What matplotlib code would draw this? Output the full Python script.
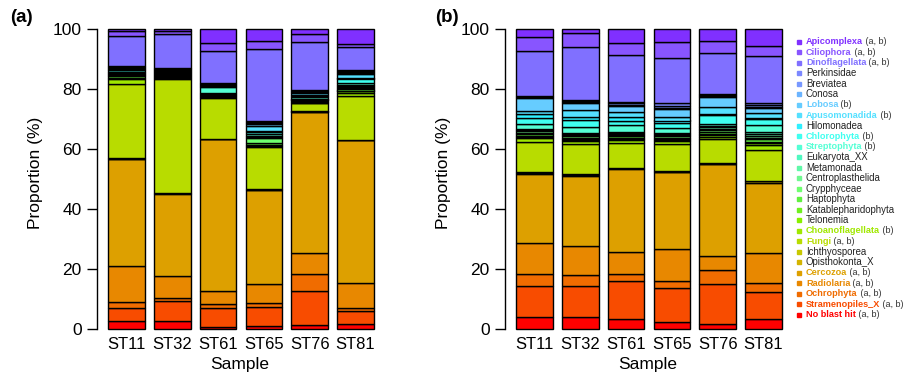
import numpy as np
import matplotlib.pyplot as plt
from matplotlib.patches import Rectangle

plt.rcParams["font.family"] = ["Liberation Sans", "DejaVu Sans"]

samples = ["ST11", "ST32", "ST61", "ST65", "ST76", "ST81"]

# stacking order, bottom to top
taxa = [
    "No blast hit", "Stramenopiles_X", "Ochrophyta", "Radiolaria", "Cercozoa",
    "Opisthokonta_X", "Ichthyosporea", "Fungi", "Choanoflagellata", "Telonemia",
    "Katablepharidophyta", "Haptophyta", "Crypphyceae", "Centroplasthelida",
    "Metamonada", "Eukaryota_XX", "Streptophyta", "Chlorophyta", "Hilomonadea",
    "Apusomonadida", "Lobosa", "Conosa", "Breviatea", "Perkinsidae",
    "Dinoflagellata", "Ciliophora", "Apicomplexa",
]
tags = [
    "(a, b)", "(a, b)", "(a, b)", "(a, b)", "(a, b)",
    "", "", "(a, b)", "(b)", "",
    "", "", "", "",
    "", "", "(b)", "(b)", "",
    "(b)", "(b)", "", "", "",
    "(a, b)", "(a, b)", "(a, b)",
]
colors = [
    "#FF0000", "#F84C00", "#F06C00", "#E88800", "#DDA000",
    "#D4B400", "#C8C800", "#B8DC00", "#A0E800", "#88F000",
    "#70F020", "#60F040", "#70FF70", "#70F890",
    "#60F8A8", "#50F8C0", "#55FFD5", "#40FFF0", "#30F0FF",
    "#55E0FF", "#66CCFF", "#6CB4FF", "#7898FF", "#7C88FF",
    "#8070FF", "#8855FF", "#8030FF",
]

# proportion (%) per taxon, one value per sample
prop_a = [
    [2.8, 2.7, 0.6, 1.0, 1.2, 1.7],
    [4.3, 6.5, 6.3, 6.4, 11.6, 4.3],
    [1.9, 1.1, 1.3, 1.2, 5.6, 1.1],
    [12.0, 7.5, 4.6, 6.3, 6.8, 8.3],
    [35.6, 27.3, 50.5, 31.5, 47.2, 47.5],
    [0.2, 0.1, 0.1, 0.1, 0.1, 0.1],
    [0.1, 0.1, 0.1, 0.1, 0.2, 0.1],
    [24.9, 38.0, 13.6, 14.0, 2.5, 14.7],
    [1.5, 0.4, 0.3, 0.3, 0.2, 1.0],
    [0.3, 0.2, 0.2, 0.3, 0.2, 0.4],
    [0.2, 0.2, 0.2, 0.3, 0.1, 0.3],
    [0.4, 0.3, 0.3, 0.5, 0.3, 0.5],
    [0.3, 0.2, 0.2, 1.6, 0.2, 0.4],
    [0.2, 0.2, 0.1, 0.3, 0.2, 0.3],
    [0.2, 0.2, 0.1, 0.2, 0.1, 0.3],
    [0.3, 0.2, 0.1, 0.4, 0.3, 0.4],
    [0.4, 0.3, 2.0, 0.5, 0.4, 0.5],
    [0.6, 0.4, 0.3, 0.8, 0.6, 1.6],
    [0.2, 0.2, 0.2, 0.3, 0.2, 0.3],
    [0.4, 0.2, 0.3, 1.5, 0.7, 1.2],
    [0.3, 0.2, 0.2, 0.8, 0.4, 0.5],
    [0.2, 0.1, 0.1, 0.3, 0.2, 0.3],
    [0.2, 0.1, 0.1, 0.2, 0.1, 0.2],
    [0.3, 0.2, 0.1, 0.3, 0.3, 0.3],
    [10.0, 11.4, 10.9, 24.0, 15.9, 7.6],
    [1.5, 1.0, 2.4, 2.9, 2.7, 1.1],
    [0.7, 0.7, 4.8, 3.9, 1.7, 5.0],
]

prop_b = [
    [3.9, 3.9, 3.4, 2.4, 1.6, 3.2],
    [10.3, 10.3, 12.6, 11.4, 13.3, 9.2],
    [4.0, 3.8, 2.2, 2.1, 4.8, 2.8],
    [10.4, 9.7, 7.6, 10.8, 4.7, 10.2],
    [23.0, 23.3, 27.5, 25.5, 30.5, 23.4],
    [0.4, 0.4, 0.3, 0.3, 0.2, 0.4],
    [0.3, 0.4, 0.2, 0.2, 0.1, 0.3],
    [9.9, 9.9, 8.3, 9.0, 8.1, 10.2],
    [1.4, 0.9, 0.8, 0.9, 0.7, 1.6],
    [0.5, 0.4, 0.4, 0.4, 0.6, 0.6],
    [0.4, 0.3, 0.4, 0.4, 0.5, 0.6],
    [0.5, 0.5, 0.5, 0.4, 0.6, 0.7],
    [0.4, 0.4, 0.4, 0.4, 0.6, 0.6],
    [0.5, 0.4, 0.4, 0.4, 0.5, 0.6],
    [0.4, 0.4, 0.4, 0.4, 0.6, 0.6],
    [0.4, 0.3, 0.4, 0.3, 0.4, 0.8],
    [1.5, 2.1, 2.1, 1.6, 0.5, 2.2],
    [2.2, 2.3, 1.6, 1.8, 3.0, 2.0],
    [1.2, 1.1, 1.2, 0.8, 0.4, 0.5],
    [1.1, 2.2, 1.7, 1.1, 2.2, 1.4],
    [4.2, 2.2, 1.9, 2.6, 3.5, 1.7],
    [0.3, 0.4, 0.5, 0.6, 0.3, 0.5],
    [0.2, 0.3, 0.4, 0.6, 0.2, 0.5],
    [0.4, 0.5, 0.5, 0.8, 0.3, 0.6],
    [14.9, 17.7, 15.6, 15.2, 13.7, 15.7],
    [4.7, 4.5, 3.9, 5.4, 4.1, 3.5],
    [2.6, 1.4, 4.8, 4.2, 4.0, 5.6],
]

W, H = 909, 378


def stacked_bars(ax, props):
    x = np.arange(len(samples))
    bottom = np.zeros(len(samples))
    for vals, col in zip(props, colors):
        ax.bar(x, vals, width=0.8, bottom=bottom, color=col,
               edgecolor="black", linewidth=1.0, clip_on=False)
        bottom += np.array(vals)
    ax.set_xlim(-0.64, 5.6)
    ax.set_ylim(0, 104)
    for s in ["top", "right", "bottom"]:
        ax.spines[s].set_visible(False)
    ax.spines["left"].set_bounds(0, 100)
    ax.spines["left"].set_linewidth(1.0)
    ax.set_yticks([0, 20, 40, 60, 80, 100])
    ax.set_xticks(x)
    ax.set_xticklabels(samples)
    ax.tick_params(axis="y", direction="out", length=7, width=1.0, pad=4, labelsize=12.5)
    ax.tick_params(axis="x", length=0, pad=6, labelsize=12)
    ax.set_xlabel("Sample", fontsize=12.5, labelpad=3)
    ax.set_ylabel("Proportion (%)", fontsize=12.5, labelpad=7)


fig = plt.figure(figsize=(W / 100, H / 100), dpi=100)
ax_a = fig.add_axes([97 / W, 49 / H, 286 / W, 312 / H])
ax_b = fig.add_axes([505 / W, 49 / H, 286 / W, 312 / H])
stacked_bars(ax_a, prop_a)
stacked_bars(ax_b, prop_b)

fig.text(10 / W, 1 - 17 / H, "(a)", fontsize=13.5, fontweight="bold", va="center")
fig.text(435 / W, 1 - 17 / H, "(b)", fontsize=13.5, fontweight="bold", va="center")

# legend, top to bottom is the reverse of the stacking order
for k, i in enumerate(range(len(taxa) - 1, -1, -1)):
    yc = 1 - (41.7 + 10.5 * k) / H
    fig.patches.append(Rectangle((797 / W, yc - 2 / H), 4 / W, 4 / H,
                                 transform=fig.transFigure, color=colors[i]))
    if tags[i]:
        name = fig.text(806 / W, yc, taxa[i], fontsize=6.6, fontweight="bold",
                        color=colors[i], va="center")
        ax_b.annotate(" " + tags[i], xy=(1, 0), xycoords=name, va="bottom",
                      ha="left", fontsize=6.5, color="#333333")
    else:
        fig.text(806 / W, yc, taxa[i], fontsize=6.9, color="#222222", va="center")

fig.savefig("out.png", dpi=100)
